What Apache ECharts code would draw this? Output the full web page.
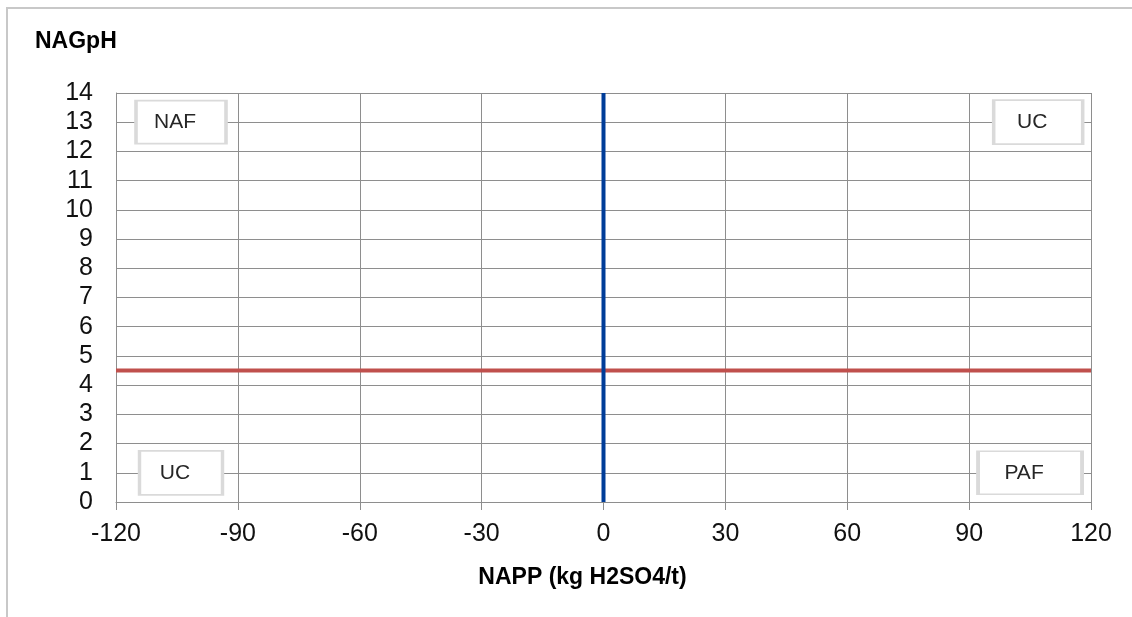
<!DOCTYPE html>
<html>
<head>
<meta charset="utf-8">
<script src="https://cdn.jsdelivr.net/npm/echarts@6/dist/echarts.min.js"></script>
<style>
  html, body { margin: 0; padding: 0; background: #fff; }
  #main { width: 1132px; height: 617px; }
</style>
</head>
<body>
<div id="main"></div>
<script>
// axis ranges
var xMin = -120, xMax = 120, xStep = 30;
var yMin = 0, yMax = 14, yStep = 1;

// threshold lines
var napp0Line = [[0, 0], [0, 14]];          // NAPP = 0
var nagph45Line = [[-120, 4.5], [120, 4.5]]; // NAGpH = 4.5

// quadrant labels
var quadNames = ['NAF', 'UC', 'UC', 'PAF'];
var quadX = [-104, 107, -104, 105];
var quadY = [13, 13, 1, 1];
var quadBox = [[90, 43], [89, 44], [83, 44], [104, 43]];

var myChart = echarts.init(document.getElementById('main'));

var quadData = quadNames.map(function (n, i) {
    return { name: n, value: [quadX[i], quadY[i]], symbolSize: quadBox[i] };
});

var gridColor = '#8e8e8e';
var font = 'Liberation Sans, Arial';

var option = {
    animation: false,
    title: {
        text: 'NAGpH',
        left: 35,
        top: 30,
        padding: 0,
        textStyle: { fontFamily: font, fontSize: 23, fontWeight: 'bold', color: '#000' }
    },
    grid: { left: 116, right: 41, top: 93, bottom: 115, containLabel: false },
    graphic: [{
        type: 'rect',
        silent: true,
        shape: { x: 7, y: 8, width: 1300, height: 800 },
        style: { fill: 'none', stroke: '#c8c8c8', lineWidth: 2 }
    }],
    xAxis: {
        type: 'value',
        min: xMin, max: xMax, interval: xStep,
        name: 'NAPP (kg H2SO4/t)',
        nameLocation: 'middle',
        nameGap: 64,
        nameTextStyle: { fontFamily: font, fontSize: 23, fontWeight: 'bold', color: '#000', padding: [0, 42, 0, 0] },
        axisLine: { show: true, onZero: false, lineStyle: { color: gridColor, width: 1 } },
        axisTick: { show: true, length: 8, lineStyle: { color: gridColor } },
        axisLabel: { margin: 20, fontFamily: font, fontSize: 25, color: '#111' },
        splitLine: { show: true, lineStyle: { color: gridColor, width: 1 } }
    },
    yAxis: {
        type: 'value',
        min: yMin, max: yMax, interval: yStep,
        axisLine: { show: true, onZero: false, lineStyle: { color: gridColor, width: 1 } },
        axisTick: { show: false },
        axisLabel: { margin: 23, fontFamily: font, fontSize: 25, color: '#111' },
        splitLine: { show: true, lineStyle: { color: gridColor, width: 1 } }
    },
    series: [
        {
            name: 'NAGpH 4.5',
            type: 'line',
            data: nagph45Line,
            showSymbol: false,
            lineStyle: { color: '#c0504d', width: 4 },
            z: 3
        },
        {
            name: 'NAPP 0',
            type: 'line',
            data: napp0Line,
            showSymbol: false,
            lineStyle: { color: '#003d99', width: 4 },
            z: 4
        },
        {
            name: 'quadrants',
            type: 'scatter',
            symbol: 'rect',
            data: quadData,
            itemStyle: { color: '#fff', borderColor: '#dadada', borderWidth: 2.5, opacity: 1 },
            label: {
                show: true,
                position: 'inside',
                formatter: '{b}',
                fontFamily: font,
                fontSize: 21,
                color: '#262626',
                padding: [0, 12, 0, 0]
            },
            z: 5
        }
    ]
};

myChart.setOption(option);
</script>
</body>
</html>
